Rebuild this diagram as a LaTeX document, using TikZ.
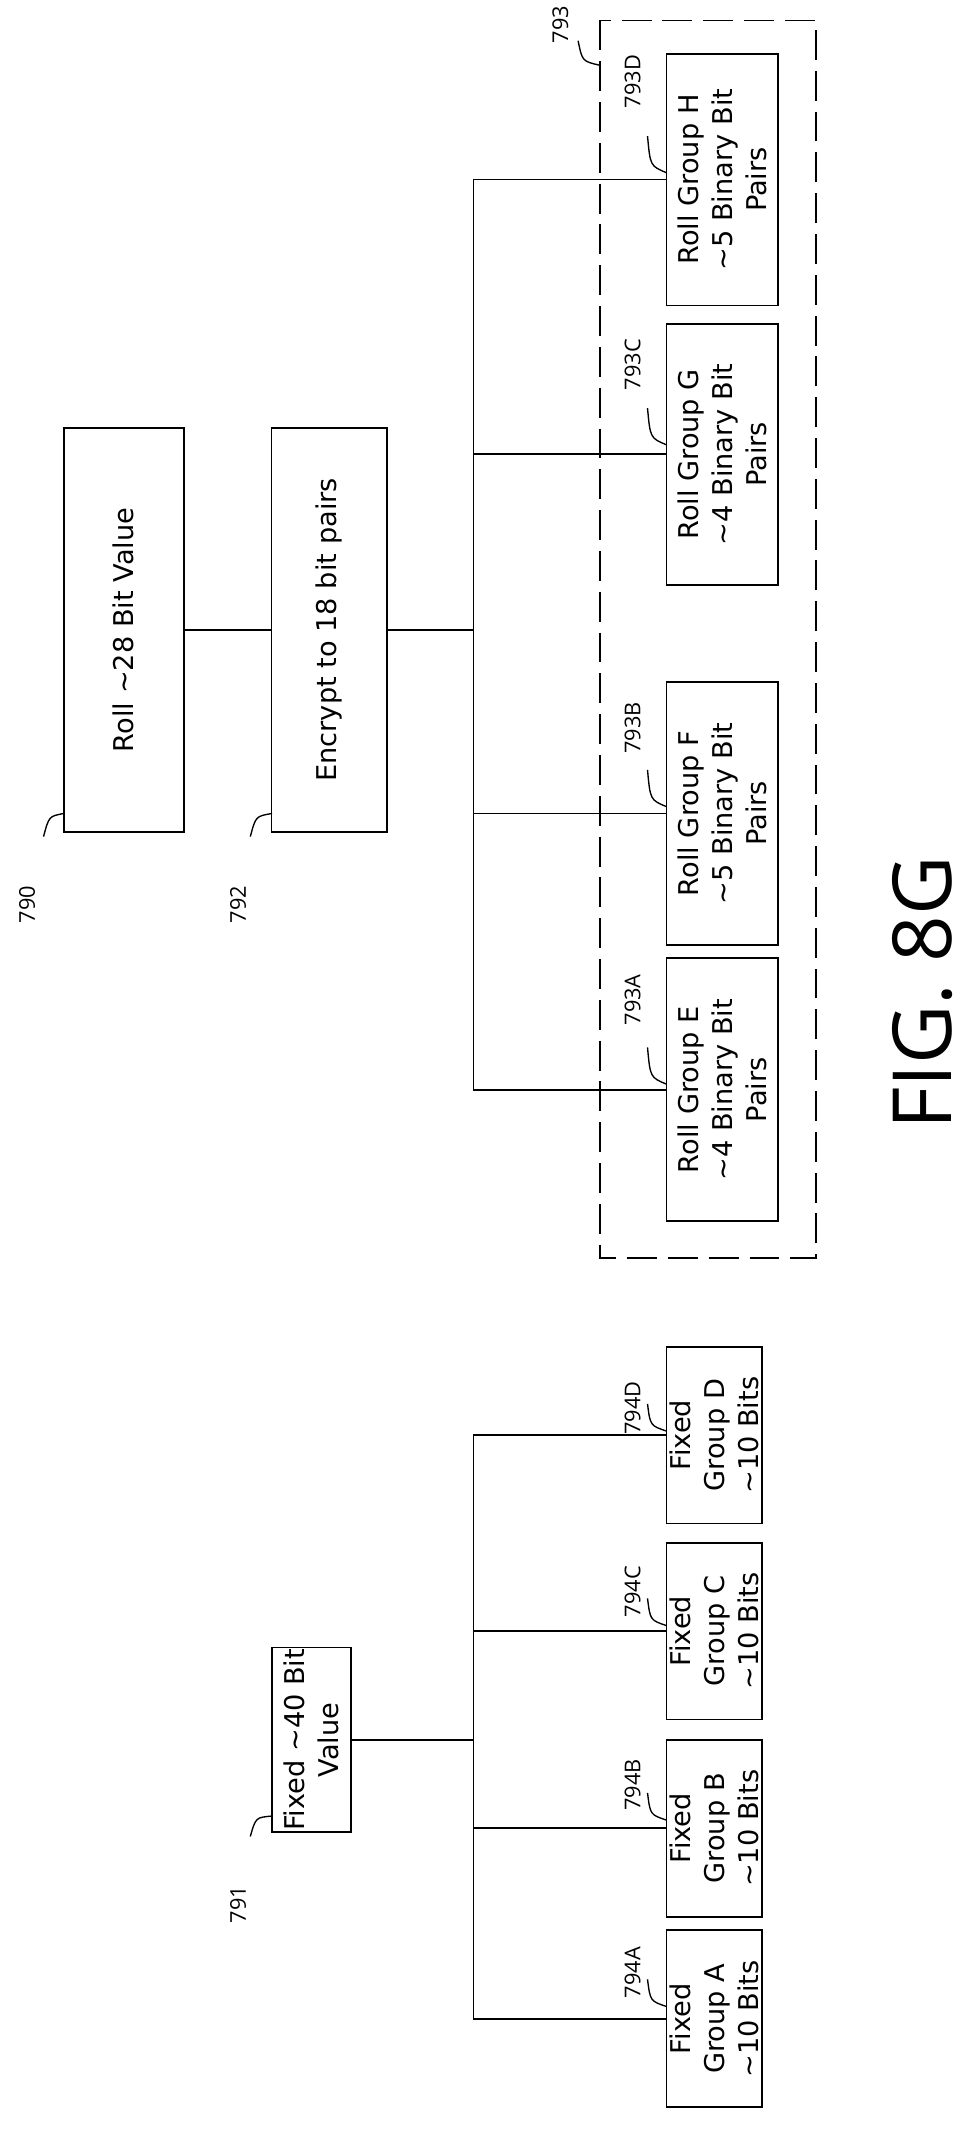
\documentclass[tikz,border=0pt]{standalone}
\usepackage{fontspec}
\setmainfont{DejaVu Sans}
\newfontfamily\figfont{Open Sans}
\begin{document}
\begin{tikzpicture}[x=1pt, y=-1pt, line width=1.3pt,
  box/.style={draw, rotate=90, align=center, inner sep=1pt, font=\fontsize{20}{25}\selectfont},
  ref/.style={rotate=90, font=\figfont\fontsize{16}{18}\selectfont},
  lead/.style={line width=1pt}]
\useasboundingbox (0,0) rectangle (720,1568);

% roll path
\node[box, minimum width=297pt, minimum height=88pt] (roll) at (91,463) {Roll \textasciitilde28 Bit Value};
\node[box, minimum width=297pt, minimum height=85pt] (enc) at (242,463) {Encrypt to 18 bit pairs};
\draw (roll.south) -- (enc.north);
\coordinate (rbus) at (348,463);
\draw (enc.south) -- (rbus);

\node[box, minimum width=185pt, minimum height=82pt] (rh) at (531,132) {Roll Group H\\\textasciitilde5 Binary Bit\\Pairs};
\node[box, minimum width=192pt, minimum height=82pt] (rg) at (531,334) {Roll Group G\\\textasciitilde4 Binary Bit\\Pairs};
\node[box, minimum width=193pt, minimum height=82pt] (rf) at (531,598) {Roll Group F\\\textasciitilde5 Binary Bit\\Pairs};
\node[box, minimum width=193pt, minimum height=82pt] (re) at (531,801) {Roll Group E\\\textasciitilde4 Binary Bit\\Pairs};
\draw (rbus |- rh.north) -- (rbus |- re.north);
\foreach \b in {rh,rg,rf,re}
  \draw (rbus |- \b.north) -- (\b.north);

\draw[dash pattern=on 22pt off 8pt] (441,15) rectangle (600,925);

% fixed path
\node[box, minimum width=122pt, minimum height=58pt] (fix) at (229,1279) {Fixed \textasciitilde40 Bit\\Value};
\coordinate (fbus) at (348,1279);
\draw (fix.south) -- (fbus);
\node[box, minimum width=130pt, minimum height=70pt] (fd) at (525,1055) {Fixed\\Group D\\\textasciitilde10 Bits};
\node[box, minimum width=130pt, minimum height=70pt] (fc) at (525,1199) {Fixed\\Group C\\\textasciitilde10 Bits};
\node[box, minimum width=130pt, minimum height=70pt] (fb) at (525,1344) {Fixed\\Group B\\\textasciitilde10 Bits};
\node[box, minimum width=130pt, minimum height=70pt] (fa) at (525,1484) {Fixed\\Group A\\\textasciitilde10 Bits};
\draw (fbus |- fd.north) -- (fbus |- fa.north);
\foreach \b in {fd,fc,fb,fa}
  \draw (fbus |- \b.north) -- (\b.north);

% reference numerals
\node[ref] (n790) at (20,665) {790};
\node[ref] (n792) at (175,665) {792};
\node[ref] (n791) at (175,1400) {791};
\node[ref] (n793) at (412,18) {793};
\node[ref] (n793d) at (465,60) {793D};
\node[ref] (n793c) at (465,268) {793C};
\node[ref] (n793b) at (465,535) {793B};
\node[ref] (n793a) at (465,735) {793A};
\node[ref] (n794d) at (465,1035) {794D};
\node[ref] (n794c) at (465,1170) {794C};
\node[ref] (n794b) at (465,1312) {794B};
\node[ref] (n794a) at (465,1450) {794A};

\draw[lead] (32,615) .. controls (36,600) .. (47,598);
\draw[lead] (184,615) .. controls (188,600) .. (200,598);
\draw[lead] (184,1350) .. controls (188,1336) .. (200,1335);
\draw[lead] (425,30) .. controls (428,45) .. (441,48);
\foreach \y in {100,300,566,770}
  \draw[lead] (476,\y) .. controls (478,\y+22) .. (490,\y+27);
\foreach \y in {1032,1175,1318,1455}
  \draw[lead] (476,\y) .. controls (478,\y+16) .. (490,\y+20);

\node[rotate=90, font=\figfont\fontsize{60}{60}\selectfont] (fig) at (678,730) {FIG. 8G};
\end{tikzpicture}
\end{document}
